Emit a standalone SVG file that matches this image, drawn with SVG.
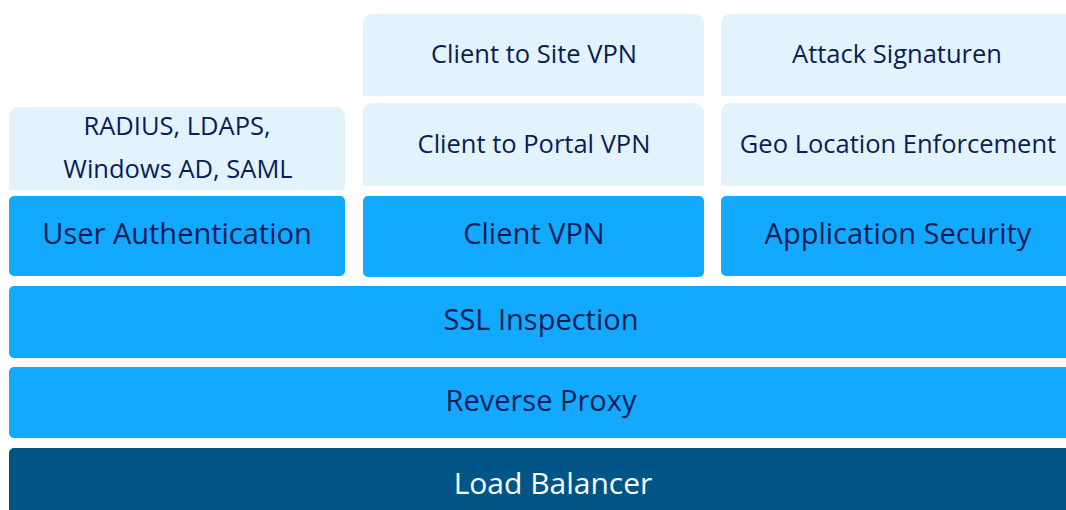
<svg xmlns="http://www.w3.org/2000/svg" width="1066" height="510" viewBox="0 0 1066 510">
<style>
.lt{fill:#E3F3FE}
.bl{fill:#12A9FF}
.dk{fill:#005587}
text{font-family:"Open Sans","Noto Sans",sans-serif;fill:#0B1D54;text-anchor:middle}
.s{font-size:25.5px}
.b{font-size:29px}
.w{fill:#FFFFFF;font-size:30px}
</style>
<rect width="1066" height="510" fill="#FFFFFF"/>
<g id="radius">
<path class="lt" d="M9,190 V116 A9,9 0 0 1 18,107 H336 A9,9 0 0 1 345,116 V190 Z"/>
<text class="s" x="177" y="135">RADIUS, LDAPS,</text>
<text class="s" x="178" y="178">Windows AD, SAML</text>
</g>
<g id="c2s">
<path class="lt" d="M363,96 V23 A9,9 0 0 1 372,14 H695 A9,9 0 0 1 704,23 V96 Z"/>
<text class="s" x="534" y="63">Client to Site VPN</text>
</g>
<g id="c2p">
<path class="lt" d="M363,186 V112 A9,9 0 0 1 372,103 H695 A9,9 0 0 1 704,112 V186 Z"/>
<text class="s" x="534" y="153">Client to Portal VPN</text>
</g>
<g id="attack">
<path class="lt" d="M721,96 V23 A9,9 0 0 1 730,14 H1071 A9,9 0 0 1 1080,23 V96 Z"/>
<text class="s" x="897" y="63">Attack Signaturen</text>
</g>
<g id="geo">
<path class="lt" d="M721,186 V112 A9,9 0 0 1 730,103 H1071 A9,9 0 0 1 1080,112 V186 Z"/>
<text class="s" x="898" y="153">Geo Location Enforcement</text>
</g>
<g id="userauth">
<rect class="bl" x="9" y="196" width="336" height="80" rx="5"/>
<text class="b" x="177" y="244">User Authentication</text>
</g>
<g id="clientvpn">
<rect class="bl" x="363" y="196" width="341" height="81" rx="5"/>
<text class="b" x="534" y="244">Client VPN</text>
</g>
<g id="appsec">
<rect class="bl" x="721" y="196" width="360" height="80" rx="5"/>
<text class="b" x="898" y="244">Application Security</text>
</g>
<g id="ssl">
<rect class="bl" x="9" y="286" width="1072" height="72" rx="5"/>
<text class="b" x="541" y="330">SSL Inspection</text>
</g>
<g id="reverse">
<rect class="bl" x="9" y="367" width="1072" height="71" rx="5"/>
<text class="b" x="541" y="411">Reverse Proxy</text>
</g>
<g id="lb">
<rect class="dk" x="9" y="448" width="1072" height="72" rx="5"/>
<text class="w" x="553" y="494">Load Balancer</text>
</g>
<g id="connectors"/>
</svg>
